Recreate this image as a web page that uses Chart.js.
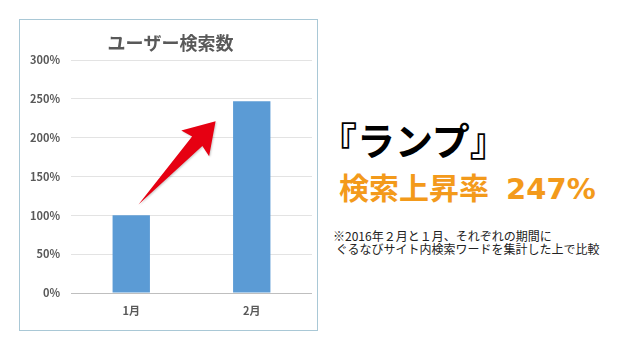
<!DOCTYPE html>
<html lang="ja">
<head>
<meta charset="utf-8">
<script src="https://cdn.jsdelivr.net/npm/chart.js@4.4.1/dist/chart.umd.min.js"></script>
<style>
  html, body { margin: 0; padding: 0; background: #fff; }
  body { width: 640px; height: 360px; position: relative; overflow: hidden;
         font-family: "Noto Sans CJK JP", "Noto Sans", sans-serif; }
  #box { position: absolute; left: 19px; top: 19px; width: 297px; height: 310px;
         border: 1px solid #a9c8d6; }
  #box canvas { display: block; }
  #name { position: absolute; left: 319px; top: 120px; font-size: 38px; font-weight: 700;
          color: #000; line-height: 1; white-space: nowrap; }
  #rate { position: absolute; left: 339px; top: 171px; font-size: 30px; font-weight: 700;
          color: #f39a1b; line-height: 1; white-space: nowrap; }
  #rate span { font-family: "DejaVu Sans", sans-serif; font-size: 29px; margin-left: 7px; }
  #note { position: absolute; left: 333px; top: 229px; font-size: 12px; color: #222;
          line-height: 13px; white-space: pre; }
</style>
</head>
<body>
<div id="box"><canvas id="chart" width="297" height="310"></canvas></div>
<div id="name">『ランプ』</div>
<div id="rate">検索上昇率<span> 247%</span></div>
<div id="note">※2016年２月と１月、それぞれの期間に
 ぐるなびサイト内検索ワードを集計した上で比較</div>

<script>
// データ
const chartTitle = 'ユーザー検索数';
const months = ['1月', '2月'];
const searchRatio = [100, 247];
const yTicks = [0, 50, 100, 150, 200, 250, 300];

// 赤い矢印 (1月 → 2月)  x: カテゴリ位置, y: %
const arrowFrom = { x: 0.06, y: 114 };
const arrowTo = { x: 0.70, y: 221 };

const arrowPlugin = {
    id: 'arrow',
    afterDatasetsDraw(chart) {
        const { ctx, scales } = chart;
        const x0 = scales.x.getPixelForValue(0);
        const step = scales.x.getPixelForValue(1) - x0;
        const tx = x0 + arrowFrom.x * step, ty = scales.y.getPixelForValue(arrowFrom.y);
        const hx = x0 + arrowTo.x * step, hy = scales.y.getPixelForValue(arrowTo.y);
        const dx = hx - tx, dy = hy - ty;
        const len = Math.hypot(dx, dy);
        const ux = dx / len, uy = dy / len;
        const nx = -uy, ny = ux;
        const headLen = 30, neckLen = 27, headW = 19, shaftW = 7;
        const bx = hx - ux * headLen, by = hy - uy * headLen;
        const sx = hx - ux * neckLen, sy = hy - uy * neckLen;
        ctx.save();
        ctx.fillStyle = '#e60012';
        ctx.shadowColor = 'rgba(0,0,0,0.2)';
        ctx.shadowBlur = 2;
        ctx.shadowOffsetX = 1;
        ctx.shadowOffsetY = 1;
        ctx.beginPath();
        ctx.moveTo(tx, ty);
        ctx.lineTo(sx + nx * shaftW, sy + ny * shaftW);
        ctx.lineTo(bx + nx * headW, by + ny * headW);
        ctx.lineTo(hx, hy);
        ctx.lineTo(bx - nx * headW, by - ny * headW);
        ctx.lineTo(sx - nx * shaftW, sy - ny * shaftW);
        ctx.closePath();
        ctx.fill();
        ctx.restore();
    }
};

const tickFont = { family: '"Noto Sans CJK JP"', size: 11, weight: 'bold' };

new Chart(document.getElementById('chart'), {
    type: 'bar',
    data: {
        labels: months,
        datasets: [{
            data: searchRatio,
            backgroundColor: '#5b9bd5',
            categoryPercentage: 1,
            barPercentage: 0.31
        }]
    },
    options: {
        responsive: false,
        animation: false,
        layout: { padding: { left: 9, right: 5, bottom: 13, top: 0 } },
        plugins: {
            legend: { display: false },
            tooltip: { enabled: false },
            title: {
                display: true,
                text: chartTitle,
                color: '#595959',
                font: { family: '"Noto Sans CJK JP"', size: 18, weight: 'bold', lineHeight: 1.2 },
                padding: { top: 12, bottom: 6.4 }
            }
        },
        scales: {
            x: {
                grid: { display: false, drawTicks: false },
                border: { display: false },
                ticks: { color: '#595959', padding: 11, font: tickFont },
                afterFit(axis) { axis.height = 24; }
            },
            y: {
                min: 0,
                max: 300,
                afterBuildTicks(axis) { axis.ticks = yTicks.map(v => ({ value: v })); },
                grid: {
                    color: ctx => ctx.tick.value === 0 ? '#bfbfbf' : '#e3e3e3',
                    drawTicks: false
                },
                border: { display: false },
                ticks: { color: '#595959', padding: 11, font: tickFont, callback: v => v + '%' },
                afterFit(axis) { axis.width = 42; }
            }
        }
    },
    plugins: [arrowPlugin]
});
</script>
</body>
</html>
